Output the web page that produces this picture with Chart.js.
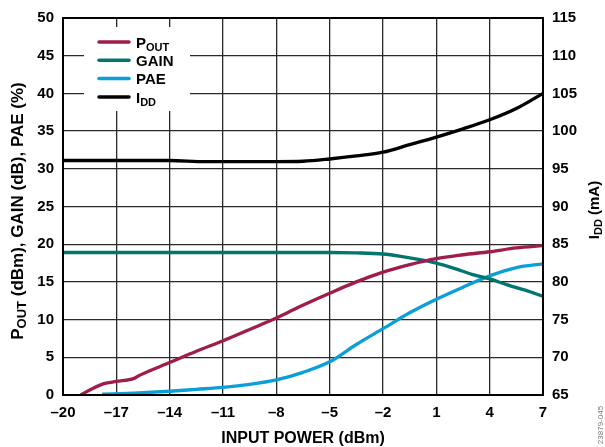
<!DOCTYPE html>
<html>
<head>
<meta charset="utf-8">
<script src="https://cdn.jsdelivr.net/npm/chart.js@4"></script>
<style>
  html, body { margin: 0; padding: 0; background: #fff; }
  canvas { display: block; }
</style>
</head>
<body>
<canvas id="chart" width="605" height="447"></canvas>
<script>
// Input power points (dBm) and values
const xPout = [-19.0, -18.3, -17.7, -17, -16, -15.7, -14, -12.5, -11, -9.5, -8, -6.7, -5, -3.5, -2, -0.5, 1, 2.5, 4, 5.5, 7]
const pout = [0, 0.9, 1.5, 1.8, 2.2, 2.6, 4.3, 5.8, 7.2, 8.7, 10.2, 11.7, 13.5, 15.0, 16.3, 17.3, 18.1, 18.6, 19.0, 19.5, 19.8]

const xGain = [-20, -14, -8, -5, -3.5, -2, -1, 0, 1, 2, 3, 4, 5, 6, 7]
const gain = [18.9, 18.9, 18.9, 18.9, 18.85, 18.7, 18.4, 18.0, 17.5, 16.8, 16.0, 15.4, 14.6, 13.9, 13.1]

const xPae = [-17.8, -16, -14, -12.5, -11, -9.5, -8, -6.5, -5, -3.5, -2, -0.5, 1, 2.5, 4, 5.5, 7]
const pae = [0.1, 0.25, 0.5, 0.75, 1.0, 1.4, 2.0, 3.0, 4.4, 6.7, 8.8, 10.9, 12.7, 14.3, 15.8, 16.9, 17.4]

const xIdd = [-20, -17, -14, -12, -10, -8, -6.5, -5, -3.5, -2, -0.5, 1, 2.5, 4, 5.5, 7]
const idd = [96.1, 96.1, 96.1, 95.95, 95.95, 95.95, 96.0, 96.3, 96.7, 97.2, 98.2, 99.2, 100.3, 101.5, 103.0, 105.0]

// legend entries: [main text, subscript]
const legendItems = [["P", "OUT"], ["GAIN", ""], ["PAE", ""], ["I", "DD"]]
const colors = ["#9F1D4C", "#00766F", "#0A9FD8", "#000000"]

const FONT = "'Liberation Sans', Arial, Helvetica, sans-serif"

function pts(xs, ys) {
  return xs.map((x, i) => ({ x: x, y: ys[i] }))
}

function fmtTick(v) {
  return v < 0 ? "\u2013" + Math.abs(v) : String(v)
}

// draw text with subscript parts, starting at x (or centered)
function richText(ctx, parts, x, y, size, subSize, subDy, center) {
  let w = 0
  parts.forEach(([t, sub]) => {
    ctx.font = "bold " + (sub ? subSize : size) + "px " + FONT
    w += ctx.measureText(t).width
  })
  let cx = center ? x - w / 2 : x
  ctx.textAlign = "left"
  ctx.textBaseline = "alphabetic"
  parts.forEach(([t, sub]) => {
    ctx.font = "bold " + (sub ? subSize : size) + "px " + FONT
    ctx.fillText(t, cx, sub ? y + subDy : y)
    cx += ctx.measureText(t).width
  })
}

const decorPlugin = {
  id: "decor",
  beforeDatasetsDraw(chart) {
    const ctx = chart.ctx
    ctx.save()
    ctx.fillStyle = "#fff"
    ctx.fillRect(84, 27, 106, 84)
    ctx.restore()
  },
  afterDraw(chart) {
    const ctx = chart.ctx
    const a = chart.chartArea
    ctx.save()
    // plot frame
    ctx.strokeStyle = "#000"
    ctx.lineWidth = 2
    ctx.strokeRect(a.left, a.top, a.right - a.left, a.bottom - a.top)

    // legend
    ctx.fillStyle = "#000"
    legendItems.forEach((item, i) => {
      const ly = 42 + i * 18.3
      ctx.strokeStyle = colors[i]
      ctx.lineWidth = 3.5
      ctx.lineCap = "round"
      ctx.beginPath()
      ctx.moveTo(99, ly)
      ctx.lineTo(129, ly)
      ctx.stroke()
      const parts = [[item[0], false]]
      if (item[1]) parts.push([item[1], true])
      richText(ctx, parts, 136, ly + 5.8, 15, 11, 3.5, false)
    })

    // x axis title
    richText(ctx, [["INPUT POWER (dBm)", false]], (a.left + a.right) / 2, 443, 16, 12, 0, true)

    // left axis title
    ctx.save()
    ctx.translate(22.5, 211)
    ctx.rotate(-Math.PI / 2)
    richText(ctx, [["P", false], ["OUT", true], [" (dBm), GAIN (dB), PAE (%)", false]], 0, 0, 17, 13, 3, true)
    ctx.restore()

    // right axis title
    ctx.save()
    ctx.translate(599, 210)
    ctx.rotate(-Math.PI / 2)
    richText(ctx, [["I", false], ["DD", true], [" (mA)", false]], 0, 0, 15, 11, 3, true)
    ctx.restore()

    // figure id
    ctx.save()
    ctx.translate(603, 425)
    ctx.rotate(-Math.PI / 2)
    ctx.fillStyle = "#777"
    ctx.font = "8px " + FONT
    ctx.textAlign = "center"
    ctx.textBaseline = "alphabetic"
    ctx.fillText("23879-045", 0, 0)
    ctx.restore()

    ctx.restore()
  }
}

function line(label, xs, ys, color, axis) {
  return {
    label: label,
    data: pts(xs, ys),
    borderColor: color,
    backgroundColor: color,
    borderWidth: 3.3,
    pointRadius: 0,
    cubicInterpolationMode: "monotone",
    fill: false,
    yAxisID: axis
  }
}

const tickFont = { family: FONT, size: 15, weight: "bold" }
const gridStyle = { color: "#2a2a2a", lineWidth: 1.3, drawTicks: false }

new Chart(document.getElementById("chart"), {
  type: "line",
  data: {
    datasets: [
      line("POUT", xPout, pout, colors[0], "y"),
      line("GAIN", xGain, gain, colors[1], "y"),
      line("PAE", xPae, pae, colors[2], "y"),
      line("IDD", xIdd, idd, colors[3], "y1")
    ]
  },
  options: {
    responsive: false,
    animation: false,
    events: [],
    layout: { padding: { top: 12, left: 0, right: 0, bottom: 0 } },
    plugins: {
      legend: { display: false },
      tooltip: { enabled: false }
    },
    scales: {
      x: {
        type: "linear",
        min: -20,
        max: 7,
        ticks: { stepSize: 3, color: "#000", font: tickFont, padding: 9, maxRotation: 0, callback: fmtTick },
        grid: gridStyle,
        border: { color: "#000", width: 2 },
        afterFit: (s) => { s.height = 52 }
      },
      y: {
        position: "left",
        min: 0,
        max: 50,
        ticks: { stepSize: 5, color: "#000", font: tickFont, padding: 9 },
        grid: gridStyle,
        border: { color: "#000", width: 2 },
        afterFit: (s) => { s.width = 63 }
      },
      y1: {
        position: "right",
        min: 65,
        max: 115,
        ticks: { stepSize: 5, color: "#000", font: tickFont, padding: 9 },
        grid: { drawOnChartArea: false, drawTicks: false },
        border: { color: "#000", width: 2 },
        afterFit: (s) => { s.width = 62 }
      }
    }
  },
  plugins: [decorPlugin]
})
</script>
</body>
</html>
